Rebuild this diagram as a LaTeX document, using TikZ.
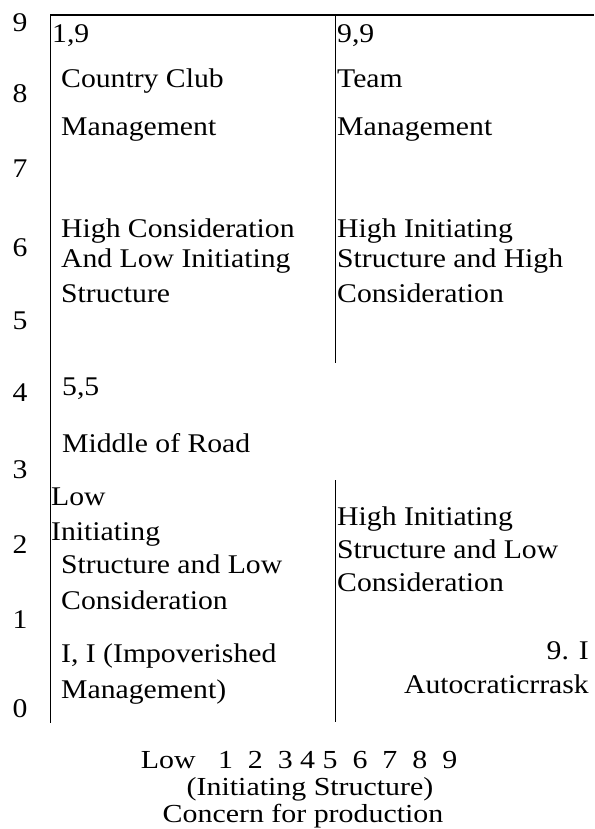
\documentclass[tikz,border=0pt]{standalone}
\usepackage{fontspec}
\setmainfont[FakeStretch=1.10]{Liberation Serif}
\newfontfamily\botfont[FakeStretch=1.15]{Liberation Serif}
\begin{document}
\begin{tikzpicture}[x=1pt,y=-1pt,
  txt/.style={anchor=base west,inner sep=0pt,font=\fontsize{27}{31}\selectfont},
  rtxt/.style={anchor=base east,inner sep=0pt,font=\fontsize{27}{31}\selectfont},
  ytxt/.style={anchor=base,inner sep=0pt,font=\fontsize{27}{31}\selectfont},
  btxt/.style={anchor=base,inner sep=0pt,font=\botfont\fontsize{26}{27}\selectfont},
  axis/.style={line width=1pt,black}]
\useasboundingbox (0,0) rectangle (594,829);
% frame lines
\coordinate (tl) at (50,15);
\coordinate (tr) at (594,15);
\coordinate (bl) at (50,723);
\coordinate (mt) at (335,15);
\coordinate (mb1) at (335,363);
\coordinate (mt2) at (335,480);
\coordinate (mb) at (335,722);
\draw[line width=2pt] (tl) -- (tr);
\draw[axis] (tl) -- (bl);
\draw[axis] (mt) -- (mb1);
\draw[axis] (mt2) -- (mb);
% y axis numbers
\foreach \v/\yy in {9/32,8/103,7/178,6/256,5/329,4/401,3/478,2/553,1/628,0/717}
  \node[ytxt] (y\v) at (20,\yy) {\v};
% top-left quadrant
\node[txt] (a1) at (52,43) {1,9};
\node[txt] (a2) at (61,88) {Country Club};
\node[txt] (a3) at (61,136) {Management};
\node[txt] (a4) at (61,237) {High Consideration};
\node[txt] (a5) at (61,267) {And Low Initiating};
\node[txt] (a6) at (61,302) {Structure};
% top-right quadrant
\node[txt] (b1) at (337,43) {9,9};
\node[txt] (b2) at (337,88) {Team};
\node[txt] (b3) at (337,136) {Management};
\node[txt] (b4) at (337,237) {High Initiating};
\node[txt] (b5) at (337,267) {Structure and High};
\node[txt] (b6) at (337,302) {Consideration};
% middle
\node[txt] (m1) at (62,395) {5,5};
\node[txt] (m2) at (62,452) {Middle of Road};
% bottom-left
\node[txt] (c1) at (51,505) {Low};
\node[txt] (c2) at (51,540) {Initiating};
\node[txt] (c3) at (61,573) {Structure and Low};
\node[txt] (c4) at (61,609) {Consideration};
\node[txt] (c5) at (61,662) {I, I (Impoverished};
\node[txt] (c6) at (61,698) {Management)};
% bottom-right
\node[txt] (d1) at (337,525) {High Initiating};
\node[txt] (d2) at (337,558) {Structure and Low};
\node[txt] (d3) at (337,591) {Consideration};
\node[rtxt] (d4) at (589,659) {9. I};
\node[rtxt] (d5) at (589,693) {Autocraticrrask};
% x axis caption
\node[btxt] (x1) at (299,768) {Low\ \ \ 1\ \ 2\ \ 3 4 5\ \ 6\ \ 7\ \ 8\ \ 9};
\node[btxt] (x2) at (310,795) {(Initiating Structure)};
\node[btxt] (x3) at (303,822) {Concern for production};
\end{tikzpicture}
\end{document}
